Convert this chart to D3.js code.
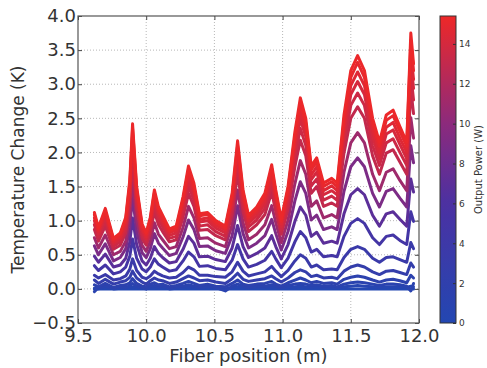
<!DOCTYPE html>
<html>
<head>
<meta charset="utf-8">
<script src="https://cdn.jsdelivr.net/npm/d3@7"></script>
<style>
  body { margin: 0; background: #fff; }
  svg { display: block; font-family: "DejaVu Sans", sans-serif; }
  .tick text { fill: #333; }
</style>
</head>
<body>
<svg id="chart" width="487" height="368"></svg>
<script>
// fiber positions (m) where the curves were read
const positions = [9.62, 9.65, 9.70, 9.76, 9.81, 9.85, 9.88, 9.90, 9.93, 9.97,
  10.00, 10.03, 10.06, 10.09, 10.12, 10.17, 10.22, 10.27, 10.31, 10.35,
  10.39, 10.45, 10.51, 10.58, 10.63, 10.67, 10.71, 10.75, 10.81, 10.87,
  10.92, 10.95, 10.99, 11.04, 11.09, 11.13, 11.17, 11.21, 11.25, 11.30,
  11.36, 11.40, 11.45, 11.50, 11.55, 11.60, 11.66, 11.71, 11.76, 11.81,
  11.86, 11.91, 11.94, 11.96];

// output power of each curve (W)
const powers = [0, 0.5, 1, 1.5, 2.5, 3.5, 5, 7, 9, 11, 13, 13.5, 14, 14.5, 15, 15.3];

// temperature change (K), one row per power
const tempByPower = [
  [0, 0, 0, 0, 0, 0, 0, 0, 0, 0, 0, 0, 0, 0, 0, 0, 0, 0, 0, 0, 0, 0, 0, 0, 0, 0, 0, 0, 0, 0, 0, 0, 0, 0, 0, 0, 0, 0, 0, 0, 0, 0, 0, 0, 0, 0, 0, 0, 0, 0, 0, 0, 0, 0],
  [0.01, 0.00, 0.02, 0.00, 0.01, 0.01, 0.02, 0.03, 0.02, 0.01, 0.00, 0.02, 0.02, 0.01, 0.02, 0.00, 0.01, 0.02, 0.03, 0.02, 0.01, 0.02, 0.01, 0.00, 0.02, 0.03, 0.02, 0.01, 0.02, 0.02, 0.03, 0.02, 0.01, 0.02, 0.03, 0.04, 0.03, 0.02, 0.03, 0.02, 0.02, 0.01, 0.03, 0.04, 0.05, 0.04, 0.03, 0.02, 0.03, 0.03, 0.03, 0.02, 0.04, 0.03],
  [-0.04, 0.02, 0.04, 0.01, 0.03, 0.02, 0.05, 0.08, 0.04, 0.02, 0.00, 0.04, 0.05, 0.03, 0.04, 0.01, 0.03, 0.04, 0.06, 0.04, 0.02, 0.04, 0.02, -0.03, 0.04, 0.07, 0.04, 0.02, 0.04, 0.04, 0.06, 0.04, 0.02, 0.05, 0.07, 0.08, 0.07, 0.05, 0.06, 0.04, 0.05, 0.03, 0.07, 0.09, 0.10, 0.09, 0.07, 0.05, 0.07, 0.07, 0.06, 0.04, -0.03, 0.08],
  [0.06, 0.03, 0.08, 0.02, 0.05, 0.06, 0.09, 0.15, 0.08, 0.04, 0.03, 0.07, 0.09, 0.06, 0.07, 0.03, 0.05, 0.08, 0.11, 0.08, 0.05, 0.07, 0.04, 0.03, 0.08, 0.13, 0.07, 0.05, 0.07, 0.08, 0.11, 0.07, 0.04, 0.09, 0.13, 0.16, 0.13, 0.09, 0.11, 0.08, 0.09, 0.07, 0.14, 0.17, 0.19, 0.17, 0.13, 0.10, 0.13, 0.14, 0.12, 0.09, 0.20, 0.16],
  [0.13, 0.08, 0.14, 0.07, 0.10, 0.12, 0.17, 0.26, 0.16, 0.10, 0.07, 0.12, 0.16, 0.13, 0.12, 0.08, 0.10, 0.15, 0.19, 0.16, 0.12, 0.13, 0.10, 0.08, 0.15, 0.23, 0.14, 0.11, 0.13, 0.15, 0.19, 0.15, 0.10, 0.16, 0.24, 0.28, 0.25, 0.18, 0.20, 0.16, 0.17, 0.15, 0.26, 0.32, 0.35, 0.32, 0.25, 0.21, 0.26, 0.27, 0.24, 0.21, 0.38, 0.32],
  [0.20, 0.16, 0.21, 0.13, 0.15, 0.19, 0.29, 0.44, 0.27, 0.17, 0.15, 0.19, 0.26, 0.22, 0.19, 0.16, 0.17, 0.24, 0.32, 0.28, 0.20, 0.20, 0.18, 0.17, 0.25, 0.39, 0.26, 0.19, 0.22, 0.25, 0.33, 0.26, 0.18, 0.27, 0.41, 0.50, 0.45, 0.32, 0.35, 0.28, 0.29, 0.28, 0.46, 0.58, 0.62, 0.58, 0.45, 0.39, 0.46, 0.47, 0.43, 0.39, 0.68, 0.59],
  [0.34, 0.27, 0.35, 0.22, 0.25, 0.32, 0.48, 0.73, 0.45, 0.29, 0.25, 0.32, 0.44, 0.36, 0.32, 0.26, 0.28, 0.41, 0.54, 0.47, 0.33, 0.34, 0.30, 0.28, 0.42, 0.65, 0.44, 0.32, 0.36, 0.42, 0.55, 0.44, 0.31, 0.45, 0.69, 0.84, 0.75, 0.54, 0.58, 0.47, 0.49, 0.47, 0.77, 0.96, 1.03, 0.96, 0.75, 0.65, 0.77, 0.79, 0.71, 0.65, 1.13, 0.99],
  [0.48, 0.39, 0.51, 0.32, 0.35, 0.45, 0.69, 1.04, 0.65, 0.41, 0.35, 0.45, 0.62, 0.52, 0.46, 0.38, 0.40, 0.58, 0.77, 0.67, 0.47, 0.48, 0.43, 0.40, 0.60, 0.93, 0.62, 0.46, 0.52, 0.60, 0.78, 0.62, 0.44, 0.65, 0.99, 1.20, 1.08, 0.77, 0.83, 0.67, 0.70, 0.67, 1.10, 1.38, 1.47, 1.38, 1.08, 0.92, 1.10, 1.13, 1.02, 0.92, 1.61, 1.42],
  [0.63, 0.50, 0.66, 0.41, 0.46, 0.59, 0.90, 1.36, 0.84, 0.53, 0.46, 0.59, 0.81, 0.67, 0.60, 0.49, 0.52, 0.76, 1.01, 0.87, 0.62, 0.63, 0.56, 0.52, 0.78, 1.22, 0.81, 0.60, 0.67, 0.78, 1.02, 0.81, 0.57, 0.84, 1.29, 1.57, 1.40, 1.01, 1.08, 0.87, 0.91, 0.87, 1.43, 1.79, 1.92, 1.79, 1.40, 1.20, 1.43, 1.47, 1.33, 1.20, 2.10, 1.85],
  [0.75, 0.60, 0.79, 0.50, 0.55, 0.70, 1.07, 1.62, 1.01, 0.64, 0.55, 0.70, 0.97, 0.80, 0.72, 0.59, 0.62, 0.90, 1.21, 1.04, 0.74, 0.75, 0.67, 0.62, 0.94, 1.45, 0.97, 0.72, 0.80, 0.94, 1.22, 0.97, 0.68, 1.01, 1.54, 1.88, 1.68, 1.21, 1.29, 1.04, 1.09, 1.04, 1.71, 2.14, 2.29, 2.14, 1.68, 1.44, 1.71, 1.76, 1.59, 1.44, 2.51, 2.21],
  [0.87, 0.70, 0.92, 0.58, 0.64, 0.82, 1.25, 1.89, 1.17, 0.74, 0.64, 0.82, 1.13, 0.94, 0.84, 0.69, 0.72, 1.05, 1.40, 1.21, 0.86, 0.87, 0.78, 0.72, 1.09, 1.69, 1.13, 0.84, 0.94, 1.09, 1.42, 1.13, 0.80, 1.17, 1.79, 2.18, 1.95, 1.40, 1.50, 1.21, 1.26, 1.21, 1.99, 2.50, 2.67, 2.50, 1.95, 1.68, 1.99, 2.04, 1.86, 1.68, 2.93, 2.57],
  [0.94, 0.76, 0.99, 0.62, 0.69, 0.88, 1.34, 2.03, 1.26, 0.80, 0.69, 0.88, 1.22, 1.01, 0.91, 0.74, 0.77, 1.13, 1.51, 1.30, 0.92, 0.94, 0.84, 0.77, 1.18, 1.82, 1.22, 0.91, 1.01, 1.18, 1.53, 1.22, 0.86, 1.26, 1.93, 2.35, 2.10, 1.51, 1.61, 1.30, 1.36, 1.30, 2.14, 2.69, 2.87, 2.69, 2.10, 1.81, 2.14, 2.20, 2.00, 1.81, 3.15, 2.77],
  [1.00, 0.80, 1.05, 0.66, 0.73, 0.93, 1.42, 2.15, 1.34, 0.85, 0.73, 0.93, 1.29, 1.07, 0.96, 0.78, 0.82, 1.20, 1.60, 1.38, 0.98, 1.00, 0.89, 0.82, 1.25, 1.93, 1.29, 0.96, 1.07, 1.25, 1.62, 1.29, 0.91, 1.34, 2.05, 2.49, 2.23, 1.60, 1.71, 1.38, 1.44, 1.38, 2.27, 2.85, 3.04, 2.85, 2.23, 1.91, 2.27, 2.33, 2.12, 1.91, 3.34, 2.94],
  [1.04, 0.84, 1.10, 0.69, 0.76, 0.98, 1.49, 2.25, 1.40, 0.88, 0.76, 0.98, 1.35, 1.12, 1.00, 0.82, 0.86, 1.26, 1.67, 1.44, 1.02, 1.04, 0.93, 0.86, 1.30, 2.02, 1.35, 1.00, 1.12, 1.30, 1.69, 1.35, 0.95, 1.40, 2.14, 2.60, 2.33, 1.67, 1.79, 1.44, 1.51, 1.44, 2.37, 2.98, 3.18, 2.98, 2.33, 2.00, 2.37, 2.44, 2.21, 2.00, 3.49, 3.07],
  [1.09, 0.87, 1.14, 0.72, 0.80, 1.02, 1.55, 2.35, 1.46, 0.92, 0.80, 1.02, 1.41, 1.16, 1.05, 0.85, 0.89, 1.31, 1.75, 1.50, 1.07, 1.09, 0.97, 0.89, 1.36, 2.10, 1.41, 1.05, 1.16, 1.36, 1.77, 1.41, 0.99, 1.46, 2.23, 2.72, 2.43, 1.75, 1.86, 1.50, 1.57, 1.50, 2.47, 3.10, 3.32, 3.10, 2.43, 2.09, 2.47, 2.54, 2.31, 2.09, 3.64, 3.20],
  [1.12, 0.90, 1.18, 0.74, 0.82, 1.05, 1.60, 2.42, 1.50, 0.95, 0.82, 1.05, 1.45, 1.20, 1.08, 0.88, 0.92, 1.35, 1.80, 1.55, 1.10, 1.12, 1.00, 0.92, 1.40, 2.17, 1.45, 1.08, 1.20, 1.40, 1.82, 1.45, 1.02, 1.50, 2.30, 2.80, 2.50, 1.80, 1.92, 1.55, 1.62, 1.55, 2.55, 3.20, 3.42, 3.20, 2.50, 2.15, 2.55, 2.62, 2.38, 2.15, 3.75, 3.30]
];

const xTicks = [9.5, 10.0, 10.5, 11.0, 11.5, 12.0];
const yTicks = [-0.5, 0.0, 0.5, 1.0, 1.5, 2.0, 2.5, 3.0, 3.5, 4.0];
const powerTicks = [0, 2, 4, 6, 8, 10, 12, 14];

const svg = d3.select("#chart");

const plot = { l: 78, r: 419, t: 16, b: 323 };

const x = d3.scaleLinear().domain([9.5, 12.0]).range([plot.l, plot.r]);
const y = d3.scaleLinear().domain([-0.5, 4.0]).range([plot.b, plot.t]);

// blue -> purple -> red
const color = d3
  .scaleLinear()
  .domain([0, 6, 10, 15.4])
  .range(["#2347b2", "#4b31a2", "#8c2a7c", "#ee2828"]);

// grid
const grid = svg.append("g");
grid
  .selectAll(".gx")
  .data(xTicks.slice(1, -1))
  .join("line")
  .attr("x1", (d) => x(d))
  .attr("x2", (d) => x(d))
  .attr("y1", plot.t)
  .attr("y2", plot.b)
  .attr("stroke", "#b8b8b8")
  .attr("stroke-width", 1)
  .attr("stroke-dasharray", "1,2");
grid
  .selectAll(".gy")
  .data(yTicks.slice(1, -1))
  .join("line")
  .attr("x1", plot.l)
  .attr("x2", plot.r)
  .attr("y1", (d) => y(d))
  .attr("y2", (d) => y(d))
  .attr("stroke", "#b8b8b8")
  .attr("stroke-width", 1)
  .attr("stroke-dasharray", "1,2");

// curves
const line = d3
  .line()
  .x((d, i) => x(positions[i]))
  .y((d) => y(d));

svg
  .append("g")
  .selectAll("path")
  .data(tempByPower)
  .join("path")
  .attr("d", line)
  .attr("fill", "none")
  .attr("stroke", (d, i) => color(powers[i]))
  .attr("stroke-width", 3)
  .attr("stroke-linejoin", "round")
  .attr("stroke-linecap", "round");

// axes
const fmt = d3.format(".1f");
const xAxis = svg
  .append("g")
  .attr("transform", `translate(0,${plot.b})`)
  .call(d3.axisBottom(x).tickValues(xTicks).tickFormat(fmt).tickSizeInner(-4).tickSizeOuter(0).tickPadding(6));
const yAxis = svg
  .append("g")
  .attr("transform", `translate(${plot.l},0)`)
  .call(d3.axisLeft(y).tickValues(yTicks).tickFormat(fmt).tickSizeInner(-4).tickSizeOuter(0).tickPadding(2));
svg
  .append("g")
  .attr("transform", `translate(0,${plot.t})`)
  .call(d3.axisTop(x).tickValues(xTicks).tickFormat("").tickSizeInner(-4).tickSizeOuter(0));
svg
  .append("g")
  .attr("transform", `translate(${plot.r},0)`)
  .call(d3.axisRight(y).tickValues(yTicks).tickFormat("").tickSizeInner(-4).tickSizeOuter(0));

svg.selectAll(".domain").remove();
svg.selectAll(".tick line").attr("stroke", "#444");
xAxis.selectAll("text").attr("font-size", 18).attr("font-family", "DejaVu Sans");
yAxis.selectAll("text").attr("font-size", 18).attr("font-family", "DejaVu Sans");

svg
  .append("rect")
  .attr("x", plot.l)
  .attr("y", plot.t)
  .attr("width", plot.r - plot.l)
  .attr("height", plot.b - plot.t)
  .attr("fill", "none")
  .attr("stroke", "#555")
  .attr("stroke-width", 1.2);

svg
  .append("text")
  .attr("x", (plot.l + plot.r) / 2)
  .attr("y", 362)
  .attr("text-anchor", "middle")
  .attr("font-size", 18)
  .attr("fill", "#333")
  .text("Fiber position (m)");

svg
  .append("text")
  .attr("transform", `translate(24,${(plot.t + plot.b) / 2}) rotate(-90)`)
  .attr("text-anchor", "middle")
  .attr("font-size", 17)
  .attr("fill", "#333")
  .text("Temperature Change (K)");

// colorbar
const cb = { x: 440, w: 16 };
const cScale = d3.scaleLinear().domain([0, 15.4]).range([plot.b, plot.t]);

const grad = svg
  .append("defs")
  .append("linearGradient")
  .attr("id", "cbar")
  .attr("x1", 0)
  .attr("x2", 0)
  .attr("y1", 1)
  .attr("y2", 0);
grad
  .selectAll("stop")
  .data(d3.range(0, 1.001, 0.05))
  .join("stop")
  .attr("offset", (d) => d)
  .attr("stop-color", (d) => color(d * 15.4));

svg
  .append("rect")
  .attr("x", cb.x)
  .attr("y", plot.t)
  .attr("width", cb.w)
  .attr("height", plot.b - plot.t)
  .attr("fill", "url(#cbar)")
  .attr("stroke", "#333")
  .attr("stroke-width", 1);

const cAxis = svg
  .append("g")
  .attr("transform", `translate(${cb.x + cb.w},0)`)
  .call(d3.axisRight(cScale).tickValues(powerTicks).tickSizeInner(-3).tickSizeOuter(0).tickPadding(3));
cAxis.select(".domain").remove();
cAxis.selectAll(".tick line").attr("stroke", "#333");
cAxis.selectAll("text").attr("font-size", 9).attr("font-family", "DejaVu Sans");

svg
  .append("text")
  .attr("transform", `translate(482,${(plot.t + plot.b) / 2}) rotate(-90)`)
  .attr("text-anchor", "middle")
  .attr("font-size", 10)
  .attr("fill", "#333")
  .text("Output Power (W)");
</script>
</body>
</html>
